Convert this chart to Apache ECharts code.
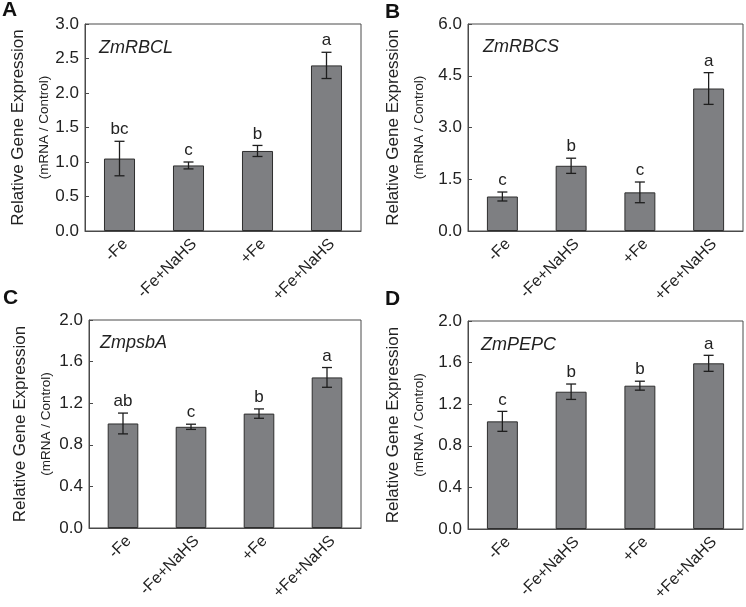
<!DOCTYPE html>
<html>
<head>
<meta charset="utf-8">
<script src="https://cdn.jsdelivr.net/npm/echarts@6/dist/echarts.min.js"></script>
<style>
html,body{margin:0;padding:0;background:#fff;}
#main{width:746px;height:607px;}
</style>
</head>
<body>
<div id="main"></div>
<script>
// ---- data ----
const categories = ['-Fe', '-Fe+NaHS', '+Fe', '+Fe+NaHS'];

const rbclMean = [1.05, 0.95, 1.16, 2.40];
const rbclErr  = [0.25, 0.05, 0.08, 0.19];
const rbclSig  = ['bc', 'c', 'b', 'a'];

const rbcsMean = [1.00, 1.89, 1.12, 4.13];
const rbcsErr  = [0.13, 0.22, 0.30, 0.46];
const rbcsSig  = ['c', 'b', 'c', 'a'];

const psbaMean = [1.005, 0.973, 1.10, 1.448];
const psbaErr  = [0.10, 0.025, 0.045, 0.095];
const psbaSig  = ['ab', 'c', 'b', 'a'];

const pepcMean = [1.035, 1.32, 1.378, 1.593];
const pepcErr  = [0.096, 0.074, 0.043, 0.077];
const pepcSig  = ['c', 'b', 'b', 'a'];

const yMax      = [3.0, 6.0, 2.0, 2.0];
const yInterval = [0.5, 1.5, 0.4, 0.4];
const geneNames = ['ZmRBCL', 'ZmRBCS', 'ZmpsbA', 'ZmPEPC'];
const panelLetters = ['A', 'B', 'C', 'D'];

// ---- layout ----
const FONT = '"Liberation Sans", Arial, sans-serif';
const grids = [
  {left: 85,  top: 24,  width: 276, height: 207},
  {left: 468, top: 24,  width: 275, height: 207},
  {left: 89,  top: 320, width: 272, height: 208},
  {left: 468, top: 321, width: 275, height: 208}
];
const nameGaps = [32, 42, 36, 42];
const geneTitlePos = [[99, 39], [483, 38], [100, 334], [481, 336]];
const letterPos = [[2, 0], [385, 2], [3, 288], [385, 289]];

const means = [rbclMean, rbcsMean, psbaMean, pepcMean];
const errs  = [rbclErr, rbcsErr, psbaErr, pepcErr];
const sigs  = [rbclSig, rbcsSig, psbaSig, pepcSig];

const option = {
  animation: false,
  backgroundColor: '#fff',
  textStyle: {fontFamily: FONT},
  title: [],
  grid: [],
  xAxis: [],
  yAxis: [],
  series: []
};

for (let p = 0; p < 4; p++) {
  option.grid.push(Object.assign({show: true, borderColor: '#4a4a4a', borderWidth: 1, backgroundColor: 'transparent'}, grids[p]));
  option.title.push({
    text: panelLetters[p], left: letterPos[p][0], top: letterPos[p][1], padding: 0,
    textStyle: {fontFamily: FONT, fontSize: 21, fontWeight: 'bold', color: '#111'}
  });
  option.title.push({
    text: geneNames[p], left: geneTitlePos[p][0], top: geneTitlePos[p][1], padding: 0,
    textStyle: {fontFamily: FONT, fontSize: 18, fontStyle: 'italic', fontWeight: 'normal', color: '#222'}
  });
  option.xAxis.push({
    type: 'category', gridIndex: p, data: categories,
    axisLine: {show: true, lineStyle: {color: '#4a4a4a', width: 1}},
    axisTick: {show: false},
    axisLabel: {rotate: 45, fontSize: 16, color: '#222', fontFamily: FONT, margin: 5, verticalAlign: 'top', interval: 0}
  });
  option.yAxis.push({
    type: 'value', gridIndex: p, min: 0, max: yMax[p], interval: yInterval[p],
    splitLine: {show: false},
    axisLine: {show: true, lineStyle: {color: '#4a4a4a', width: 1}},
    axisTick: {show: true, inside: true, length: 4, lineStyle: {color: '#4a4a4a'}},
    axisLabel: {fontSize: 17, color: '#222', fontFamily: FONT, margin: 6,
      formatter: v => v.toFixed(1)},
    name: '{a|Relative Gene Expression}\n{b|(mRNA / Control)}',
    nameLocation: 'middle', nameGap: nameGaps[p] - 2,
    nameTextStyle: {
      fontFamily: FONT, color: '#222',
      rich: {
        a: {fontSize: 17, lineHeight: 34, fontFamily: FONT, color: '#222'},
        b: {fontSize: 13.5, lineHeight: 18, fontFamily: FONT, color: '#222'}
      }
    }
  });
  option.series.push({
    type: 'bar', xAxisIndex: p, yAxisIndex: p,
    data: means[p], barWidth: '45%',
    itemStyle: {color: '#7e7f82', borderColor: '#2e2e2e', borderWidth: 1}
  });
  const errData = means[p].map((m, i) => [i, m, errs[p][i]]);
  const sig = sigs[p];
  option.series.push({
    type: 'custom', xAxisIndex: p, yAxisIndex: p,
    data: errData, z: 10,
    renderItem: function (params, api) {
      const i = api.value(0), m = api.value(1), e = api.value(2);
      const top = api.coord([i, m + e]);
      const bot = api.coord([i, m - e]);
      const hw = 5;
      const style = {stroke: '#1e1e1e', lineWidth: 1.3};
      return {
        type: 'group',
        children: [
          {type: 'line', shape: {x1: top[0], y1: top[1], x2: bot[0], y2: bot[1]}, style: style},
          {type: 'line', shape: {x1: top[0] - hw, y1: top[1], x2: top[0] + hw, y2: top[1]}, style: style},
          {type: 'line', shape: {x1: bot[0] - hw, y1: bot[1], x2: bot[0] + hw, y2: bot[1]}, style: style},
          {type: 'text', style: {text: sig[params.dataIndex], x: top[0], y: top[1] - 3,
            align: 'center', verticalAlign: 'bottom', fontSize: 17, fontFamily: FONT, fill: '#222'}}
        ]
      };
    }
  });
}

const chart = echarts.init(document.getElementById('main'), null, {renderer: 'canvas'});
chart.setOption(option);
</script>
</body>
</html>
